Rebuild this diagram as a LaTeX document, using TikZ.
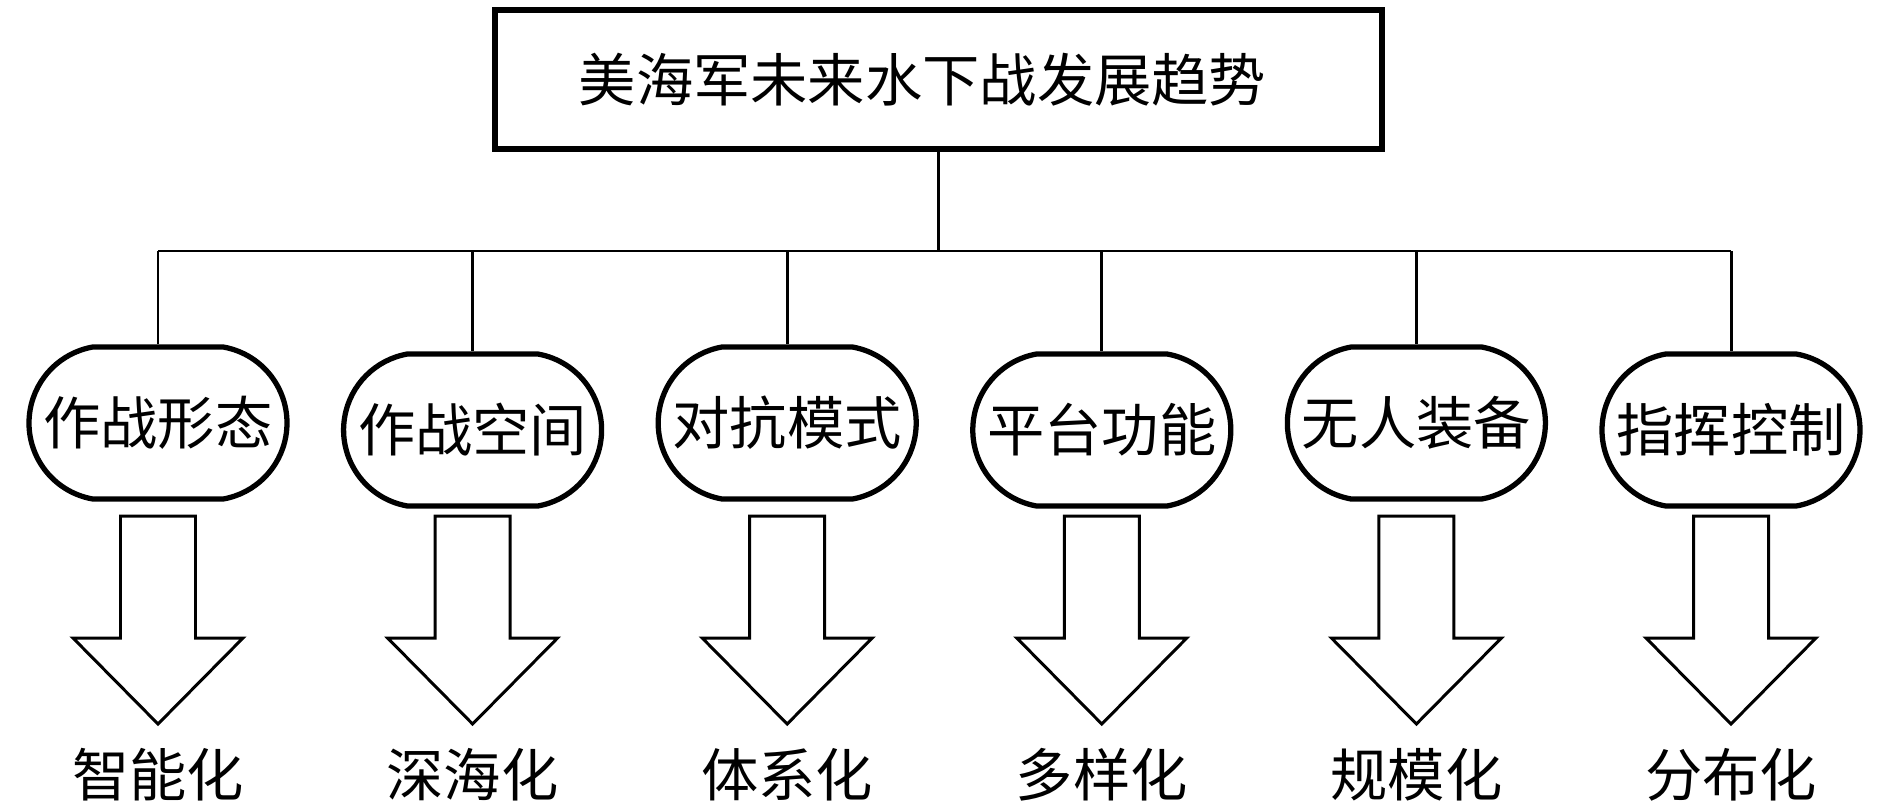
\documentclass[tikz,border=0pt]{standalone}
\usepackage{fontspec}
\setmainfont{Noto Sans CJK SC}
\usetikzlibrary{shapes.misc}
\begin{document}
\begin{tikzpicture}[x=1cm, y=1cm,
  font=\fontsize{16.3pt}{20pt}\selectfont,
  titlebox/.style={draw, line width=1.5pt, minimum width=8.87cm, minimum height=1.39cm, inner sep=0pt},
  pillbox/.style={draw, rounded rectangle, rounded rectangle arc length=160, line width=1.5pt, minimum width=2.58cm, minimum height=1.52cm, inner sep=0pt},
  trendlabel/.style={inner sep=0pt},
  link/.style={line width=0.85pt},
  blockarrow/.style={line width=0.85pt, line join=miter}]
\useasboundingbox (0,0) rectangle (18.9,-8.02);

\node[titlebox] (top) at (9.385,-0.795) {美海军未来水下战发展趋势\hspace*{0.32cm}};
\coordinate (bus) at (9.385,-2.51);
\draw[link] (top.south) -- (bus);

\foreach \i/\dy/\aspect/\trend in {0/0/作战形态/智能化, 1/0.07/作战空间/深海化, 2/0/对抗模式/体系化,
  3/0.07/平台功能/多样化, 4/0/无人装备/规模化, 5/0.07/指挥控制/分布化}
{
  \pgfmathsetmacro\px{1.58+3.146*\i}
  \node[pillbox] (p\i) at (\px,-4.23-\dy) {\aspect};
  \draw[link] (p\i |- bus) -- (p\i.north);
  % hollow arrow down to the trend
  \draw[blockarrow] (\px-0.375,-5.16) -- (\px+0.375,-5.16) -- (\px+0.375,-6.38)
    -- (\px+0.85,-6.38) -- (\px,-7.24) -- (\px-0.85,-6.38) -- (\px-0.375,-6.38) -- cycle;
  \node[trendlabel] (t\i) at (\px,-7.75) {\trend};
}
\draw[link] (p0 |- bus) -- (p5 |- bus);
\end{tikzpicture}
\end{document}
